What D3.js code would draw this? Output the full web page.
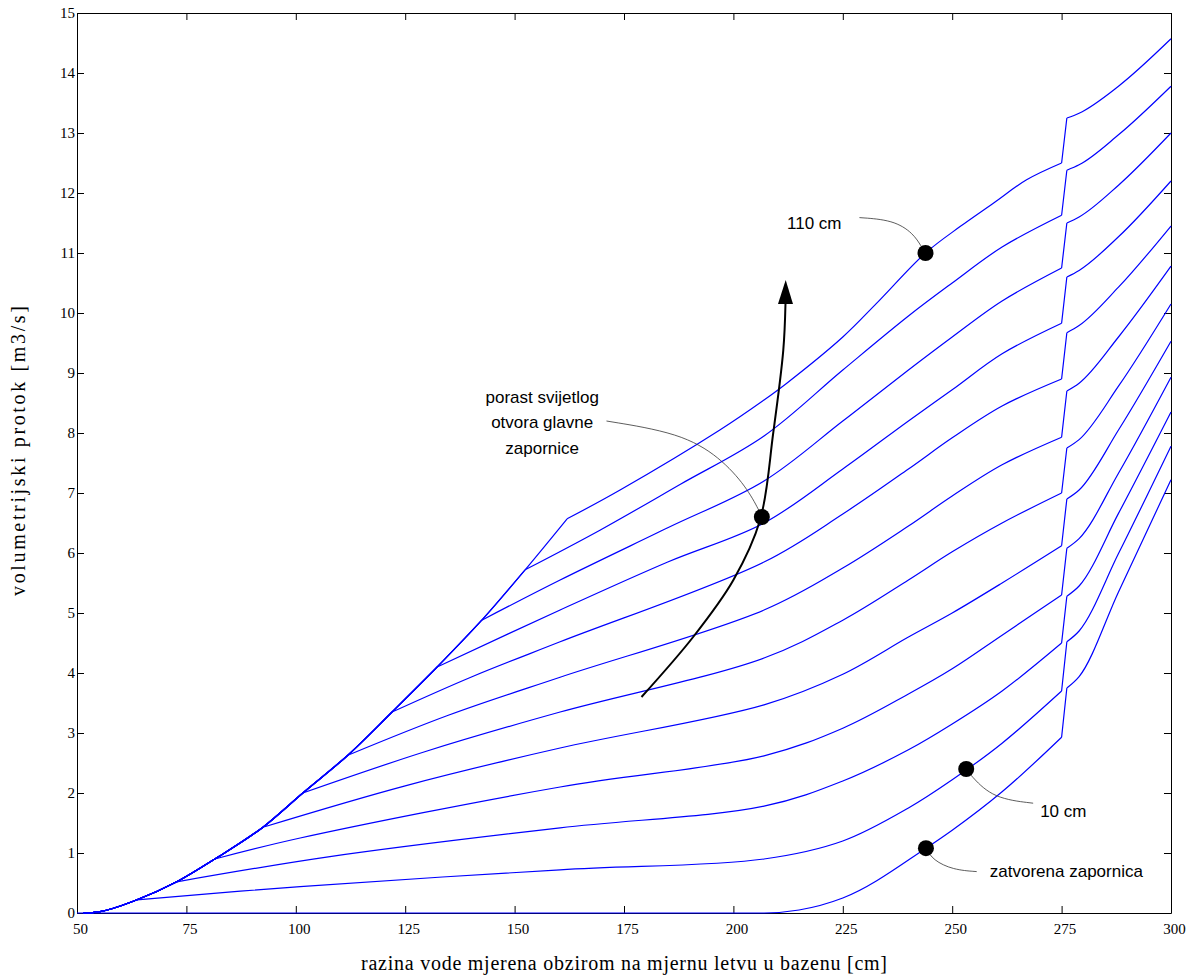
<!DOCTYPE html>
<html>
<head>
<meta charset="utf-8">
<script src="https://cdn.jsdelivr.net/npm/d3@7"></script>
<style>
  body { margin: 0; background: #fff; }
  .tick text { font-family: "Liberation Serif", "Times New Roman", serif; font-size: 15px; fill: #000; }
  .note { font-family: "Liberation Sans", Arial, sans-serif; font-size: 17px; fill: #000; }
  .title { font-family: "Liberation Serif", "Times New Roman", serif; font-size: 20px; fill: #000; }
</style>
</head>
<body>
<div id="chart"></div>
<script>

// tick values
let xTicks = [50, 75, 100, 125, 150, 175, 200, 225, 250, 275, 300]
let yTicks = d3.range(0, 16)

// shared rising part, every opening follows it until it breaks away
let commonCurve = [[51.5, 0], [55, 0.02], [63.7, 0.22], [72.8, 0.52], [81.5, 0.9], [92.5, 1.43],
  [101.6, 2.0], [111.9, 2.63], [122, 3.35], [132.3, 4.1], [142.5, 4.88], [152.4, 5.72], [162, 6.57]]

// gate opening [cm] and the part of each curve from break-away point up to 275
let openings = [0, 10, 20, 30, 40, 50, 60, 70, 80, 90, 100, 110]
let midParts = [
  [[50, 0], [207, 0], [215, 0.05], [225, 0.25], [244, 1.08], [250, 1.38], [261.4, 2.02], [275, 2.93]],
  [[63.7, 0.22], [101, 0.44], [160.4, 0.72], [207, 0.9], [225, 1.2], [240, 1.75], [250, 2.22], [261.4, 2.83], [275, 3.7]],
  [[72.8, 0.52], [107.8, 0.94], [160.4, 1.42], [207, 1.78], [225, 2.2], [240, 2.72], [250, 3.15], [261.4, 3.7], [275, 4.5]],
  [[81.5, 0.9], [101, 1.25], [160.4, 2.1], [207, 2.62], [225, 3.08], [240, 3.65], [250, 4.07], [261.4, 4.63], [275, 5.3]],
  [[92.5, 1.43], [125, 2.12], [160.4, 2.75], [207, 3.47], [225, 3.98], [240, 4.6], [250, 5.0], [261.4, 5.5], [275, 6.12]],
  [[101.6, 2.0], [130, 2.7], [160.4, 3.35], [207, 4.25], [225, 4.88], [240, 5.55], [250, 6.02], [261.4, 6.5], [275, 7.0]],
  [[111.9, 2.63], [135, 3.3], [160.4, 3.93], [207, 5.05], [225, 5.75], [240, 6.45], [250, 6.95], [261.4, 7.47], [275, 7.93]],
  [[122, 3.35], [140, 3.93], [160.4, 4.52], [207, 5.85], [225, 6.65], [240, 7.4], [250, 7.92], [261.4, 8.45], [275, 8.9]],
  [[132.3, 4.1], [160.4, 5.05], [185, 5.85], [207, 6.5], [225, 7.4], [240, 8.2], [250, 8.72], [261.4, 9.32], [275, 9.83]],
  [[142.5, 4.88], [160.4, 5.55], [185, 6.42], [207, 7.2], [225, 8.2], [240, 9.05], [250, 9.6], [261.4, 10.2], [275, 10.75]],
  [[152.4, 5.72], [169.5, 6.38], [188, 7.15], [207, 7.95], [225, 9.05], [240, 9.95], [250, 10.5], [261.4, 11.1], [275, 11.63]],
  [[162, 6.57], [174.1, 7.05], [196.9, 8.05], [207, 8.55], [212.2, 8.83], [225, 9.6], [232.7, 10.16],
    [243.9, 11.0], [251.8, 11.44], [259.4, 11.83], [267, 12.22], [275, 12.5]]
]

// after the step at 275
let afterX = [276.2, 279, 288, 300]
let afterParts = [
  [3.75, 3.94, 5.35, 7.22],
  [4.52, 4.7, 5.99, 7.78],
  [5.28, 5.45, 6.66, 8.35],
  [6.08, 6.24, 7.33, 8.93],
  [6.9, 7.05, 8.05, 9.53],
  [7.75, 7.89, 8.78, 10.15],
  [8.7, 8.83, 9.6, 10.78],
  [9.67, 9.79, 10.43, 11.45],
  [10.6, 10.71, 11.27, 12.2],
  [11.5, 11.6, 12.13, 13.0],
  [12.38, 12.47, 12.97, 13.78],
  [13.25, 13.33, 13.78, 14.57]
]

// annotations: marker points, leader lines and texts
let markers = [[243.9, 11.0], [206.5, 6.6], [253.2, 2.4], [244, 1.08]]
let leaders = [
  [[228.8, 11.59], [236.5, 11.55], [241.1, 11.33], [243.0, 11.1], [243.9, 11.0]],
  [[171.0, 8.2], [187.8, 8.0], [196.9, 7.6], [203.0, 7.1], [206.0, 6.69], [206.5, 6.6]],
  [[253.2, 2.4], [254.5, 2.27], [259.4, 1.91], [268.5, 1.83]],
  [[244, 1.08], [245.6, 0.88], [250.2, 0.72], [255.6, 0.69]]
]
let arrowPath = [[179.0, 3.6], [190.8, 4.6], [200, 5.55], [206.1, 6.55], [209.1, 8.0], [211.4, 9.38], [211.9, 10.15]]
let arrowTip = [211.95, 10.55]

let margin = { top: 13, right: 22, bottom: 64, left: 77 },
  width = 1193 - margin.left - margin.right,
  height = 977 - margin.top - margin.bottom;

let svg = d3.select("#chart")
  .append("svg")
  .attr("width", width + margin.left + margin.right)
  .attr("height", height + margin.top + margin.bottom)
  .append("g")
  .attr("transform", "translate(" + margin.left + "," + margin.top + ")")

let x = d3.scaleLinear()
  .domain([50, 300])
  .range([0, width])

let y = d3.scaleLinear()
  .domain([0, 15])
  .range([height, 0])

// axes box, ticks pointing inwards
let xAxis = svg.append("g")
  .attr("transform", "translate(0," + height + ")")
  .call(d3.axisBottom(x).tickValues(xTicks).tickSize(-7).tickSizeOuter(0).tickPadding(10))
xAxis.selectAll("text").attr("dx", 3)

svg.append("g")
  .call(d3.axisTop(x).tickValues(xTicks).tickSize(-7).tickSizeOuter(0).tickFormat(""))

svg.append("g")
  .call(d3.axisLeft(y).tickValues(yTicks).tickSize(-7).tickSizeOuter(0).tickPadding(2))

svg.append("g")
  .attr("transform", "translate(" + width + ",0)")
  .call(d3.axisRight(y).tickValues(yTicks).tickSize(-7).tickSizeOuter(0).tickFormat(""))

svg.selectAll(".domain, .tick line").attr("stroke", "#000").attr("stroke-width", 1)

let smooth = d3.line()
  .x((d) => { return x(d[0]) })
  .y((d) => { return y(d[1]) })
  .curve(d3.curveMonotoneX)

let soft = d3.line()
  .x((d) => { return x(d[0]) })
  .y((d) => { return y(d[1]) })
  .curve(d3.curveCatmullRom.alpha(0.5))

let straight = d3.line()
  .x((d) => { return x(d[0]) })
  .y((d) => { return y(d[1]) })

// one path per gate opening
openings.forEach((h, i) => {
  let mid = midParts[i]
  let start = mid[0][0]
  let common = i == 0 ? [] : commonCurve.filter(p => p[0] < start - 0.01).concat([mid[0]])
  let after = afterX.map((xv, j) => [xv, afterParts[i][j]])
  let d = ""
  if (common.length > 1) d += smooth(common)
  d += i == 0 ? smooth(mid) : soft(mid)
  d += straight([mid[mid.length - 1], after[0]])
  d += smooth(after)
  svg.append("path")
    .attr("class", "flow h" + h)
    .attr("d", d)
    .attr("stroke", "#0000ff")
    .style("fill", "none")
    .style("stroke-width", 1.2)
})

// arrow showing growing gate opening
svg.append("path")
  .datum(arrowPath)
  .attr("d", d3.line()
    .x((d) => { return x(d[0]) })
    .y((d) => { return y(d[1]) })
    .curve(d3.curveCatmullRom))
  .attr("stroke", "#000")
  .style("fill", "none")
  .style("stroke-width", 2)

let base = arrowPath[arrowPath.length - 1]
svg.append("path")
  .attr("d", "M" + (x(base[0]) - 7.5) + "," + y(base[1]) +
    "L" + x(arrowTip[0]) + "," + y(arrowTip[1]) +
    "L" + (x(base[0]) + 7.5) + "," + y(base[1]) + "Z")
  .style("fill", "#000")

// leader lines
leaders.forEach((pts) => {
  svg.append("path")
    .datum(pts)
    .attr("d", d3.line()
      .x((d) => { return x(d[0]) })
      .y((d) => { return y(d[1]) })
      .curve(d3.curveBasis))
    .attr("stroke", "#333")
    .style("fill", "none")
    .style("stroke-width", 0.8)
})

svg.selectAll(".marker")
  .data(markers)
  .enter()
  .append("circle")
  .attr("class", "marker")
  .attr("cx", d => { return x(d[0]) })
  .attr("cy", d => { return y(d[1]) })
  .attr("r", 8)
  .style("fill", "#000")

svg.append("text").attr("class", "note")
  .attr("x", x(224.7)).attr("y", y(11.4))
  .attr("text-anchor", "end")
  .text("110 cm")

let porast = ["porast svijetlog", "otvora glavne", "zapornice"]
let porastY = [8.5, 8.08, 7.65]
porast.forEach((t, i) => {
  svg.append("text").attr("class", "note")
    .attr("x", x(156.3)).attr("y", y(porastY[i]))
    .attr("text-anchor", "middle")
    .text(t)
})

svg.append("text").attr("class", "note")
  .attr("x", x(270.1)).attr("y", y(1.6))
  .text("10 cm")

svg.append("text").attr("class", "note")
  .attr("x", x(258.6)).attr("y", y(0.6))
  .text("zatvorena zapornica")

// axis titles
svg.append("text").attr("class", "title")
  .attr("x", width / 2).attr("y", height + 57)
  .attr("text-anchor", "middle")
  .attr("textLength", 526)
  .attr("lengthAdjust", "spacing")
  .text("razina vode mjerena obzirom na mjernu letvu u bazenu [cm]")

svg.append("text").attr("class", "title")
  .attr("transform", "translate(" + (-52) + "," + (height / 2 - 12) + ") rotate(-90)")
  .attr("text-anchor", "middle")
  .attr("textLength", 290)
  .attr("lengthAdjust", "spacing")
  .text("volumetrijski protok [m3/s]")

</script>
</body>
</html>
